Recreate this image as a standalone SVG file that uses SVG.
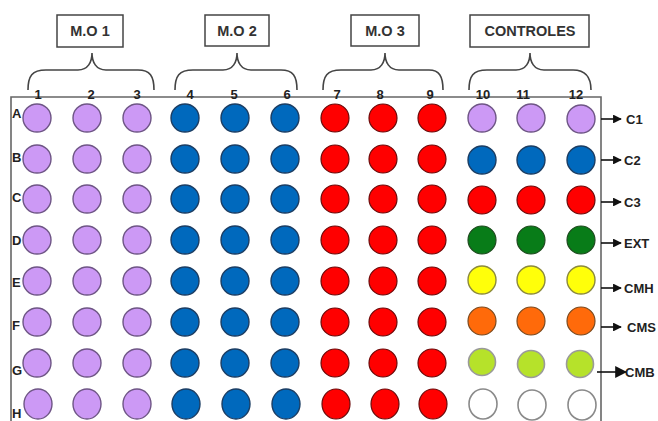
<svg xmlns="http://www.w3.org/2000/svg" width="658" height="421" viewBox="0 0 658 421">
<defs>
<style>
text{font-family:"Liberation Sans",Arial,sans-serif;font-weight:bold;fill:#222}
.box{fill:#fff;stroke:#444;stroke-width:1.5}
.bt{font-size:14.5px;fill:#333;text-anchor:middle}
.num{font-size:13px;text-anchor:middle}
.row{font-size:13px}
.lab{font-size:13px}
.brace{fill:none;stroke:#444;stroke-width:1.6}
.plate{fill:none;stroke:#666;stroke-width:1.6}
.p{fill:#CC99F5;stroke:#6E5585;stroke-width:1.4}
.b{fill:#0069BD;stroke:#1B3D63;stroke-width:1.4}
.r{fill:#FF0000;stroke:#6A0A0A;stroke-width:1.2}
.g{fill:#087C18;stroke:#1F4A1F;stroke-width:1.2}
.y{fill:#FFFF0A;stroke:#8C8A3C;stroke-width:1.4}
.o{fill:#FF6A0A;stroke:#7A4A20;stroke-width:1.2}
.l{fill:#B6E22A;stroke:#9A9A9A;stroke-width:1.6}
.w{fill:#fff;stroke:#8A8A8A;stroke-width:1.6}
.arr{stroke:#111;stroke-width:1.6;fill:none}
</style>
<marker id="ah" viewBox="0 0 10 10" refX="9" refY="5" markerWidth="6" markerHeight="5.5" markerUnits="strokeWidth" orient="auto">
<path d="M0,0 L10,5 L0,10 Z" fill="#111"/>
</marker>
<marker id="ah2" viewBox="0 0 10 10" refX="9" refY="5" markerWidth="7.5" markerHeight="7.5" markerUnits="strokeWidth" orient="auto">
<path d="M0,0 L10,5 L0,10 Z" fill="#111"/>
</marker>
</defs>
<rect width="658" height="421" fill="#fff"/>

<g id="plate">
<path class="plate" d="M11,421 L11,97 L601,97 L601,421"/>
</g>

<g id="group-mo1">
<rect class="box" x="57" y="15" width="66" height="32"/>
<text class="bt" x="90" y="36">M.O 1</text>
<path class="brace" d="M28,90 C28,76 32,70 46,70 L78,70 C88,70 92,62 92,53 C92,62 96,70 106,70 L138,70 C150,70 154,76 154,90"/>
</g>
<g id="group-mo2">
<rect class="box" x="205" y="15" width="64" height="31"/>
<text class="bt" x="237" y="36">M.O 2</text>
<path class="brace" d="M175,90 C175,76 179,70 193,70 L223,70 C233,70 237,62 237,53 C237,62 241,70 251,70 L281,70 C293,70 297,76 297,90"/>
</g>
<g id="group-mo3">
<rect class="box" x="351" y="15" width="68" height="31"/>
<text class="bt" x="385" y="36">M.O 3</text>
<path class="brace" d="M323,90 C323,76 327,70 341,70 L371,70 C381,70 385,62 385,53 C385,62 389,70 399,70 L429,70 C439,70 443,76 443,90"/>
</g>
<g id="group-controles">
<rect class="box" x="470" y="15" width="119" height="32"/>
<text class="bt" x="530" y="36">CONTROLES</text>
<path class="brace" d="M469,90 C469,76 473,70 487,70 L516,70 C526,70 530,62 530,53 C530,62 534,70 544,70 L573,70 C585,70 591,76 591,90"/>
</g>

<g id="column-numbers">
<text class="num" x="38" y="99">1</text>
<text class="num" x="91" y="99">2</text>
<text class="num" x="137" y="99">3</text>
<text class="num" x="190" y="99">4</text>
<text class="num" x="234" y="99">5</text>
<text class="num" x="287" y="99">6</text>
<text class="num" x="337" y="99">7</text>
<text class="num" x="380" y="99">8</text>
<text class="num" x="430" y="99">9</text>
<text class="num" x="483" y="99">10</text>
<text class="num" x="523" y="99">11</text>
<text class="num" x="576" y="99">12</text>
</g>

<g id="row-labels">
<text class="row" x="12" y="118">A</text>
<text class="row" x="12" y="162">B</text>
<text class="row" x="12" y="202">C</text>
<text class="row" x="12" y="245">D</text>
<text class="row" x="12" y="287">E</text>
<text class="row" x="12" y="330">F</text>
<text class="row" x="12" y="375">G</text>
<text class="row" x="12" y="418">H</text>
</g>

<g id="wells">
<g id="row-A">
<circle class="p" cx="37" cy="118" r="14"/><circle class="p" cx="87" cy="118" r="14"/><circle class="p" cx="137" cy="118" r="14"/>
<circle class="b" cx="185" cy="118" r="14"/><circle class="b" cx="235" cy="118" r="14"/><circle class="b" cx="285" cy="118" r="14"/>
<circle class="r" cx="335" cy="118" r="14"/><circle class="r" cx="383" cy="118" r="14"/><circle class="r" cx="432" cy="118" r="14"/>
<circle class="p" cx="482" cy="118" r="14"/><circle class="p" cx="531" cy="118" r="14"/><circle class="p" cx="581" cy="119" r="14"/>
</g>
<g id="row-B">
<circle class="p" cx="37" cy="159" r="14"/><circle class="p" cx="87" cy="159" r="14"/><circle class="p" cx="137" cy="159" r="14"/>
<circle class="b" cx="185" cy="159" r="14"/><circle class="b" cx="235" cy="159" r="14"/><circle class="b" cx="285" cy="159" r="14"/>
<circle class="r" cx="335" cy="159" r="14"/><circle class="r" cx="383" cy="159" r="14"/><circle class="r" cx="432" cy="159" r="14"/>
<circle class="b" cx="482" cy="160" r="14"/><circle class="b" cx="531" cy="160" r="14"/><circle class="b" cx="581" cy="160" r="14"/>
</g>
<g id="row-C">
<circle class="p" cx="37" cy="199" r="14"/><circle class="p" cx="87" cy="199" r="14"/><circle class="p" cx="137" cy="199" r="14"/>
<circle class="b" cx="185" cy="199" r="14"/><circle class="b" cx="235" cy="199" r="14"/><circle class="b" cx="285" cy="199" r="14"/>
<circle class="r" cx="335" cy="199" r="14"/><circle class="r" cx="383" cy="199" r="14"/><circle class="r" cx="432" cy="199" r="14"/>
<circle class="r" cx="482" cy="200" r="14"/><circle class="r" cx="531" cy="200" r="14"/><circle class="r" cx="581" cy="200" r="14"/>
</g>
<g id="row-D">
<circle class="p" cx="37" cy="240" r="14"/><circle class="p" cx="87" cy="240" r="14"/><circle class="p" cx="137" cy="240" r="14"/>
<circle class="b" cx="185" cy="240" r="14"/><circle class="b" cx="235" cy="240" r="14"/><circle class="b" cx="285" cy="240" r="14"/>
<circle class="r" cx="335" cy="240" r="14"/><circle class="r" cx="383" cy="240" r="14"/><circle class="r" cx="432" cy="240" r="14"/>
<circle class="g" cx="482" cy="240" r="14"/><circle class="g" cx="531" cy="240" r="14"/><circle class="g" cx="581" cy="240" r="14"/>
</g>
<g id="row-E">
<circle class="p" cx="37" cy="281" r="14"/><circle class="p" cx="87" cy="281" r="14"/><circle class="p" cx="137" cy="281" r="14"/>
<circle class="b" cx="185" cy="281" r="14"/><circle class="b" cx="235" cy="281" r="14"/><circle class="b" cx="285" cy="281" r="14"/>
<circle class="r" cx="335" cy="281" r="14"/><circle class="r" cx="383" cy="281" r="14"/><circle class="r" cx="432" cy="281" r="14"/>
<circle class="y" cx="482" cy="280" r="14"/><circle class="y" cx="531" cy="280" r="14"/><circle class="y" cx="581" cy="280" r="14"/>
</g>
<g id="row-F">
<circle class="p" cx="37" cy="322" r="14"/><circle class="p" cx="87" cy="322" r="14"/><circle class="p" cx="137" cy="322" r="14"/>
<circle class="b" cx="185" cy="322" r="14"/><circle class="b" cx="235" cy="322" r="14"/><circle class="b" cx="285" cy="322" r="14"/>
<circle class="r" cx="335" cy="322" r="14"/><circle class="r" cx="383" cy="322" r="14"/><circle class="r" cx="432" cy="322" r="14"/>
<circle class="o" cx="482" cy="321" r="14"/><circle class="o" cx="531" cy="321" r="14"/><circle class="o" cx="581" cy="321" r="14"/>
</g>
<g id="row-G">
<circle class="p" cx="37" cy="363" r="14"/><circle class="p" cx="87" cy="363" r="14"/><circle class="p" cx="137" cy="363" r="14"/>
<circle class="b" cx="185" cy="363" r="14"/><circle class="b" cx="235" cy="363" r="14"/><circle class="b" cx="285" cy="363" r="14"/>
<circle class="r" cx="335" cy="363" r="14"/><circle class="r" cx="383" cy="363" r="14"/><circle class="r" cx="432" cy="363" r="14"/>
<circle class="l" cx="482" cy="362" r="13.5"/><circle class="l" cx="531" cy="364" r="13.5"/><circle class="l" cx="580" cy="364" r="13.5"/>
</g>
<g id="row-H">
<ellipse class="p" cx="38" cy="404" rx="14" ry="15"/><ellipse class="p" cx="87" cy="404" rx="14" ry="15"/><ellipse class="p" cx="137" cy="404" rx="14" ry="15"/>
<ellipse class="b" cx="186" cy="404" rx="14" ry="15"/><ellipse class="b" cx="236" cy="404" rx="14" ry="15"/><ellipse class="b" cx="286" cy="404" rx="14" ry="15"/>
<ellipse class="r" cx="336" cy="404" rx="14" ry="15"/><ellipse class="r" cx="385" cy="404" rx="14" ry="15"/><ellipse class="r" cx="433" cy="404" rx="14" ry="15"/>
<ellipse class="w" cx="483" cy="404" rx="14" ry="15"/><ellipse class="w" cx="532" cy="405" rx="14" ry="15"/><ellipse class="w" cx="582" cy="405" rx="14" ry="15"/>
</g>
</g>

<g id="connectors">
<line class="arr" x1="601" y1="119" x2="621" y2="119" marker-end="url(#ah)"/>
<line class="arr" x1="601" y1="160" x2="621" y2="160" marker-end="url(#ah)"/>
<line class="arr" x1="601" y1="202" x2="621" y2="202" marker-end="url(#ah)"/>
<line class="arr" x1="601" y1="243" x2="621" y2="243" marker-end="url(#ah)"/>
<line class="arr" x1="601" y1="288" x2="621" y2="288" marker-end="url(#ah)"/>
<line class="arr" x1="601" y1="327" x2="621" y2="327" marker-end="url(#ah)"/>
<line class="arr" x1="597" y1="372" x2="626" y2="372" marker-end="url(#ah2)"/>
</g>

<g id="control-labels">
<text class="lab" x="626" y="124">C1</text>
<text class="lab" x="624" y="165">C2</text>
<text class="lab" x="624" y="207">C3</text>
<text class="lab" x="624" y="248">EXT</text>
<text class="lab" x="624" y="293">CMH</text>
<text class="lab" x="627" y="332">CMS</text>
<text class="lab" x="625" y="377">CMB</text>
</g>
</svg>
